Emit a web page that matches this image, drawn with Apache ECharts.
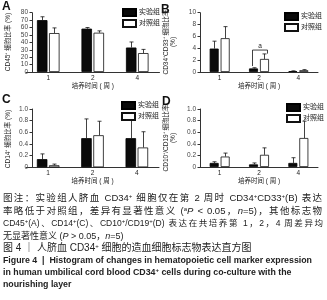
<!DOCTYPE html>
<html>
<head>
<meta charset="utf-8">
<script src="https://cdn.jsdelivr.net/npm/echarts@6/dist/echarts.min.js"></script>
<style>
body { margin: 0; background: #fff; }
#wrap { position: relative; width: 327px; height: 300px; overflow: hidden; }
#chart { position: absolute; left: 0; top: 0; width: 327px; height: 192px; }
.cap {
    position: absolute; left: 3px; width: 319px;
    font-family: "Liberation Sans", "Noto Sans CJK SC", sans-serif;
    font-size: 9.5px; line-height: 13px; color: #222; white-space: nowrap;
}
.j { text-align: justify; text-align-last: justify; white-space: normal; }
.cap sup { font-size: 6px; vertical-align: 3px; line-height: 0; }
.en { font-weight: bold; font-size: 8.8px; }
</style>
</head>
<body>
<div id="wrap">
    <div id="chart"></div>
    <div class="cap j" style="top:190.8px">图注：实验组人脐血 CD34<sup>+</sup> 细胞仅在第 2 周时 CD34<sup>+</sup>CD33<sup>+</sup>(B) 表达</div>
    <div class="cap j" style="top:203.5px">率略低于对照组，差异有显著性意义 (<sup>a</sup><i>P</i> &lt; 0.05，<i>n</i>=5)，其他标志物</div>
    <div class="cap j" style="top:216.8px;font-size:8.5px;width:320px">CD45<sup>+</sup>(A)、CD14<sup>+</sup>(C)、CD10<sup>+</sup>/CD19<sup>+</sup>(D) 表达在共培养第 1，2，4 周差异均</div>
    <div class="cap" style="top:229.5px;font-size:9px">无显著性意义 (<i>P</i> &gt; 0.05，<i>n</i>=5)</div>
    <div class="cap" style="top:240.8px;font-size:10px">图 4 ｜ 人脐血 CD34<sup>+</sup> 细胞的造血细胞标志物表达直方图</div>
    <div class="cap en" style="top:253.5px">Figure 4 &nbsp;|&nbsp; Histogram of changes in hematopoietic cell marker expression</div>
    <div class="cap en" style="top:265.8px">in human umbilical cord blood CD34<sup>+</sup> cells during co-culture with the</div>
    <div class="cap en" style="top:277.8px">nourishing layer</div>
</div>
<script>
// 培养时间（周）
const weeks = ['1', '2', '4'];
const groupNames = ['实验组', '对照组'];

// A: CD45+
const cd45Exp = [70, 58.5, 33];
const cd45ExpErr = [4.5, 1.5, 7.5];
const cd45Ctrl = [52.5, 53, 25.5];
const cd45CtrlErr = [7, 2.5, 5];

// B: CD34+CD33+
const cd33Exp = [3.95, 0.6, 0.15];
const cd33ExpErr = [1.25, 0.12, 0.05];
const cd33Ctrl = [5.7, 2.2, 0.3];
const cd33CtrlErr = [1.95, 0.85, 0.1];
// 显著性标记 [周序号, 左脚, 右脚, 顶部]
const cd33Sig = [[1, 1.0, 3.1, 3.7]];

// C: CD14+
const cd14Exp = [0.14, 0.5, 0.5];
const cd14ExpErr = [0.09, 0.33, 0.38];
const cd14Ctrl = [0.035, 0.55, 0.34];
const cd14CtrlErr = [0.02, 0.24, 0.27];

// D: CD10+/CD19+
const cd19Exp = [0.07, 0.045, 0.07];
const cd19ExpErr = [0.02, 0.025, 0.09];
const cd19Ctrl = [0.18, 0.21, 0.5];
const cd19CtrlErr = [0.06, 0.12, 0.29];

const TEXT_COLOR = '#222';
const AXIS_COLOR = '#333';
const FONT = '"Liberation Sans", "Noto Sans CJK SC", sans-serif';

const panels = [
    { letter: 'A', letterPos: [2, 1], grid: { left: 26, top: 12.7, width: 133.5, height: 59.3 }, yOffset: -6,
      max: 80, interval: 10, name: 'CD45⁺ 细胞比率 (%)', namePos: [8, 42],
      exp: cd45Exp, expErr: cd45ExpErr, ctrl: cd45Ctrl, ctrlErr: cd45CtrlErr,
      barWidth: 10.5, gap: 0.15, legend: { left: 117, top: 3 } },
    { letter: 'B', letterPos: [161, 4], grid: { left: 200, top: 12.7, width: 118, height: 59.3 }, yOffset: 0,
      max: 10, interval: 2, name: 'CD34⁺CD33⁺ 细胞比率\n(%)', namePos: [170, 42],
      exp: cd33Exp, expErr: cd33ExpErr, ctrl: cd33Ctrl, ctrlErr: cd33CtrlErr,
      barWidth: 9, gap: 0.22, legend: { left: 279, top: 7 } },
    { letter: 'C', letterPos: [2, 94], grid: { left: 26, top: 109, width: 133, height: 58.3 }, yOffset: -6,
      max: 1, interval: 0.2, name: 'CD14⁺ 细胞比率 (%)', namePos: [8, 139],
      exp: cd14Exp, expErr: cd14ExpErr, ctrl: cd14Ctrl, ctrlErr: cd14CtrlErr,
      barWidth: 10.5, gap: 0.15, legend: { left: 116, top: 96 } },
    { letter: 'D', letterPos: [162, 96], grid: { left: 200, top: 109, width: 118, height: 58 }, yOffset: 0,
      max: 1, interval: 0.2, name: 'CD10⁺/CD19⁺ 细胞比率\n(%)', namePos: [170, 138],
      exp: cd19Exp, expErr: cd19ExpErr, ctrl: cd19Ctrl, ctrlErr: cd19CtrlErr,
      barWidth: 9, gap: 0.22, legend: { left: 281, top: 98 } }
];

// 误差线（只画向上）
function errorSeries(idx, vals, errs, side, barW, gapRatio) {
    const shift = side * (barW / 2 + barW * gapRatio / 2);
    return {
        type: 'custom',
        xAxisIndex: idx,
        yAxisIndex: idx,
        silent: true,
        z: 3,
        encode: { x: 0, y: [1, 2] },
        data: vals.map((v, i) => [i, v, v + errs[i]]),
        renderItem: (params, api) => {
            const lo = api.coord([api.value(0), api.value(1)]);
            const hi = api.coord([api.value(0), api.value(2)]);
            const x = Math.round(lo[0] + shift) + 0.5;
            const style = { stroke: '#111', lineWidth: 0.8 };
            return {
                type: 'group',
                children: [
                    { type: 'line', shape: { x1: x, y1: lo[1], x2: x, y2: hi[1] }, style },
                    { type: 'line', shape: { x1: x - 2, y1: hi[1], x2: x + 2, y2: hi[1] }, style }
                ]
            };
        }
    };
}

// 显著性括号
function bracketSeries(idx, items, barW, gapRatio) {
    const shift = barW / 2 + barW * gapRatio / 2;
    return {
        type: 'custom',
        xAxisIndex: idx,
        yAxisIndex: idx,
        silent: true,
        z: 4,
        encode: { x: 0, y: [1, 2, 3] },
        data: items,
        renderItem: (params, api) => {
            const c = api.coord([api.value(0), api.value(3)]);
            const l = api.coord([api.value(0), api.value(1)]);
            const r = api.coord([api.value(0), api.value(2)]);
            const x1 = c[0] - shift - 1, x2 = c[0] + shift + 3;
            const style = { stroke: '#111', lineWidth: 0.8, fill: null };
            return {
                type: 'group',
                children: [
                    { type: 'polyline', shape: { points: [[x1, l[1]], [x1, c[1]], [x2, c[1]], [x2, r[1]]] }, style },
                    { type: 'text', x: (x1 + x2) / 2, y: c[1] - 1,
                      style: { text: 'a', fontSize: 6.5, fill: TEXT_COLOR, align: 'center', verticalAlign: 'bottom', fontFamily: FONT } }
                ]
            };
        }
    };
}

const option = {
    animation: false,
    textStyle: { fontFamily: FONT },
    grid: [],
    xAxis: [],
    yAxis: [],
    legend: [],
    series: [],
    graphic: []
};

panels.forEach((p, idx) => {
    option.grid.push(Object.assign({}, p.grid));
    option.xAxis.push({
        type: 'category',
        gridIndex: idx,
        data: weeks,
        name: '培养时间 ( 周 )',
        nameLocation: 'middle',
        nameGap: 11,
        nameTextStyle: { fontSize: 6.5, color: TEXT_COLOR },
        axisLine: { lineStyle: { color: AXIS_COLOR, width: 1 } },
        axisTick: { show: false },
        axisLabel: { fontSize: 6.5, color: TEXT_COLOR, margin: 3 }
    });
    option.yAxis.push({
        type: 'value',
        gridIndex: idx,
        min: 0,
        max: p.max,
        interval: p.interval,
        offset: p.yOffset,
        axisLine: { show: true, lineStyle: { color: AXIS_COLOR, width: 1 } },
        axisTick: { show: true, length: 2.5, lineStyle: { color: AXIS_COLOR } },
        splitLine: { show: false },
        axisLabel: {
            fontSize: 6.5, color: '#444', margin: 4,
            formatter: v => (p.max === 1 && v !== 0) ? v.toFixed(1) : String(v)
        }
    });
    option.legend.push({
        left: p.legend.left,
        top: p.legend.top,
        orient: 'vertical',
        itemWidth: 13,
        itemHeight: 7,
        itemGap: 2,
        icon: 'rect',
        selectedMode: false,
        textStyle: { fontSize: 7, color: TEXT_COLOR, padding: [0, 0, 0, -2] },
        data: groupNames
    });
    option.series.push({
        name: groupNames[0],
        type: 'bar',
        xAxisIndex: idx,
        yAxisIndex: idx,
        data: p.exp,
        barWidth: p.barWidth,
        barGap: (p.gap * 100) + '%',
        itemStyle: { color: '#0a0a0a', borderColor: '#000', borderWidth: 0.8 }
    });
    option.series.push({
        name: groupNames[1],
        type: 'bar',
        xAxisIndex: idx,
        yAxisIndex: idx,
        data: p.ctrl,
        barWidth: p.barWidth,
        itemStyle: { color: '#fff', borderColor: '#111', borderWidth: 0.8 }
    });
    option.series.push(errorSeries(idx, p.exp, p.expErr, -1, p.barWidth, p.gap));
    option.series.push(errorSeries(idx, p.ctrl, p.ctrlErr, 1, p.barWidth, p.gap));
    // 面板字母
    option.graphic.push({
        type: 'text',
        left: p.letterPos[0],
        top: p.letterPos[1],
        style: { text: p.letter, fontSize: 12, fontWeight: 'bold', fill: '#111', fontFamily: '"Liberation Sans", sans-serif' }
    });
    // 纵轴标题（竖排）
    option.graphic.push({
        type: 'text',
        x: p.namePos[0],
        y: p.namePos[1],
        rotation: Math.PI / 2,
        style: { text: p.name, fontSize: 6.5, lineHeight: 7, fill: TEXT_COLOR, align: 'center', verticalAlign: 'middle', fontFamily: FONT }
    });
});

option.series.push(bracketSeries(1, cd33Sig, panels[1].barWidth, panels[1].gap));

const chart = echarts.init(document.getElementById('chart'));
chart.setOption(option);
</script>
</body>
</html>
